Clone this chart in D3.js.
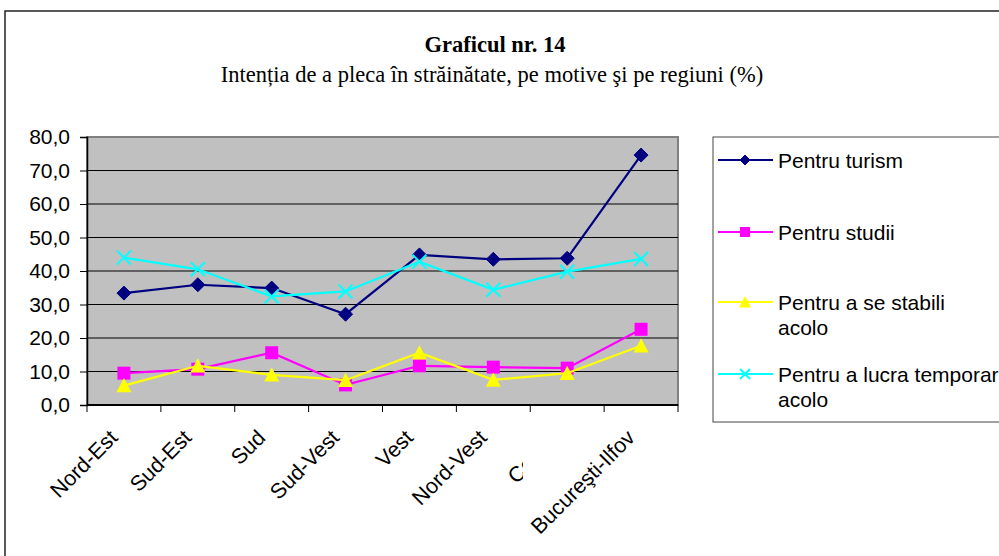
<!DOCTYPE html>
<html>
<head>
<meta charset="utf-8">
<script src="https://cdn.jsdelivr.net/npm/d3@7"></script>
<style>
  body { margin: 0; background: #fff; }
  svg { display: block; }
</style>
</head>
<body>
<svg id="chart" width="999" height="556"></svg>
<script>
// data
const regions = ['Nord-Est', 'Sud-Est', 'Sud', 'Sud-Vest', 'Vest', 'Nord-Vest', 'Centru', 'Bucureşti-Ilfov'];
const turism  = [33.4, 35.9, 34.9, 27.1, 44.8, 43.5, 43.8, 74.6];
const studii  = [9.5, 10.7, 15.6, 6.0, 11.7, 11.3, 11.0, 22.6];
const stabili = [5.8, 11.7, 9.0, 7.4, 15.6, 7.5, 9.5, 17.7];
const lucra   = [44.0, 40.5, 32.4, 33.9, 42.8, 34.4, 39.8, 43.6];
const yTicks  = [0, 10, 20, 30, 40, 50, 60, 70, 80];

const series = [
  { name: ['Pentru turism'], values: turism, color: '#000080', shape: 'diamond' },
  { name: ['Pentru studii'], values: studii, color: '#ff00ff', shape: 'square' },
  { name: ['Pentru a se stabili', 'acolo'], values: stabili, color: '#ffff00', shape: 'triangle' },
  { name: ['Pentru a lucra temporar', 'acolo'], values: lucra, color: '#00ffff', shape: 'cross' }
];

const svg = d3.select('#chart');
const plot = { left: 87, top: 137, right: 678, bottom: 405 };

// outer frame
svg.append('rect')
  .attr('x', 5).attr('y', 11).attr('width', 1100).attr('height', 700)
  .attr('fill', 'none').attr('stroke', '#222').attr('stroke-width', 1.5);

// titles
const serif = '"Liberation Serif", "Times New Roman", serif';
svg.append('text')
  .attr('x', 495).attr('y', 52)
  .attr('text-anchor', 'middle')
  .style('font-family', serif)
  .style('font-weight', 'bold').style('font-size', '22.5px')
  .text('Graficul nr. 14');
svg.append('text')
  .attr('x', 492).attr('y', 82)
  .attr('text-anchor', 'middle')
  .style('font-family', serif)
  .style('font-size', '22.5px')
  .text('Intenția de a pleca în străinătate, pe motive şi pe regiuni (%)');

const x = d3.scaleBand().domain(regions).range([plot.left, plot.right]).padding(0);
const y = d3.scaleLinear().domain([0, 80]).range([plot.bottom, plot.top]);
const cx = d => x(d) + x.bandwidth() / 2;

// plot area
svg.append('rect')
  .attr('x', plot.left).attr('y', plot.top)
  .attr('width', plot.right - plot.left).attr('height', plot.bottom - plot.top)
  .attr('fill', '#c0c0c0').attr('stroke', '#808080').attr('stroke-width', 2);

// gridlines
svg.append('g').selectAll('line')
  .data(yTicks.filter(v => v > 0 && v < 80))
  .join('line')
  .attr('x1', plot.left).attr('x2', plot.right)
  .attr('y1', d => y(d)).attr('y2', d => y(d))
  .attr('stroke', '#000').attr('stroke-width', 1);

const font = 'Arial, "Liberation Sans", sans-serif';

// y axis
const yAxis = svg.append('g')
  .attr('transform', `translate(${plot.left},0)`)
  .call(d3.axisLeft(y).tickValues(yTicks).tickSize(7).tickPadding(10)
    .tickFormat(d => d3.format('.1f')(d).replace('.', ',')));
yAxis.select('.domain').attr('stroke', '#000').attr('stroke-width', 1.5);
yAxis.selectAll('.tick line').attr('stroke', '#000');
yAxis.selectAll('text').style('font-family', font).style('font-size', '21px').attr('fill', '#000');

// x axis: ticks on category boundaries
const xAxis = svg.append('g');
xAxis.append('line')
  .attr('x1', plot.left).attr('x2', plot.right)
  .attr('y1', plot.bottom).attr('y2', plot.bottom)
  .attr('stroke', '#000').attr('stroke-width', 2);
xAxis.selectAll('.xtick')
  .data(regions.concat(['end']))
  .join('line')
  .attr('class', 'xtick')
  .attr('x1', (d, i) => i < regions.length ? x(d) : plot.right)
  .attr('x2', (d, i) => i < regions.length ? x(d) : plot.right)
  .attr('y1', plot.bottom).attr('y2', plot.bottom + 7)
  .attr('stroke', '#000');

// the "Centru" label is cut off in the original
svg.append('defs').append('clipPath').attr('id', 'cutC')
  .append('rect').attr('x', 0).attr('y', 0).attr('width', 523).attr('height', 556);

xAxis.selectAll('.xlab')
  .data(regions)
  .join('text')
  .attr('class', 'xlab')
  .attr('transform', d => `translate(${cx(d) - 5},${plot.bottom + 34}) rotate(-45)`)
  .attr('text-anchor', 'end')
  .style('font-family', font).style('font-size', '21.5px')
  .text(d => d);
xAxis.selectAll('.xlab').filter(d => d === 'Centru')
  .each(function () {
    const g = xAxis.append('g').attr('clip-path', 'url(#cutC)');
    g.node().appendChild(this);
  });

// markers
function drawMarker(sel, shape, color, s) {
  if (shape === 'diamond') {
    sel.append('path')
      .attr('d', `M0,${-s}L${s},0L0,${s}L${-s},0Z`)
      .attr('fill', color).attr('stroke', color);
  } else if (shape === 'square') {
    sel.append('rect')
      .attr('x', -s).attr('y', -s).attr('width', 2 * s).attr('height', 2 * s)
      .attr('fill', color);
  } else if (shape === 'triangle') {
    sel.append('path')
      .attr('d', `M0,${-s}L${s},${s * 0.9}L${-s},${s * 0.9}Z`)
      .attr('fill', color);
  } else {
    sel.append('path')
      .attr('d', `M${-s},${-s}L${s},${s}M${-s},${s}L${s},${-s}`)
      .attr('stroke', color).attr('stroke-width', 2).attr('fill', 'none');
  }
}

const line = d3.line().x(d => cx(d.r)).y(d => y(d.v));
const sizes = { diamond: 7, square: 6.5, triangle: 7.5, cross: 7 };

series.forEach(s => {
  const pts = s.values.map((v, i) => ({ r: regions[i], v: v }));
  svg.append('path')
    .datum(pts)
    .attr('d', line)
    .attr('fill', 'none').attr('stroke', s.color).attr('stroke-width', 2.2);
  svg.append('g').selectAll('g')
    .data(pts)
    .join('g')
    .attr('transform', d => `translate(${cx(d.r)},${y(d.v)})`)
    .each(function () { drawMarker(d3.select(this), s.shape, s.color, sizes[s.shape]); });
});

// legend
svg.append('rect')
  .attr('x', 713).attr('y', 137).attr('width', 400).attr('height', 285)
  .attr('fill', '#fff').attr('stroke', '#444').attr('stroke-width', 1);

const legendY = [160, 232, 302, 374];
const lsizes = { diamond: 5, square: 5, triangle: 6, cross: 5 };
series.forEach((s, i) => {
  const g = svg.append('g').attr('transform', `translate(0,${legendY[i]})`);
  g.append('line').attr('x1', 718).attr('x2', 773).attr('y1', 0).attr('y2', 0)
    .attr('stroke', s.color).attr('stroke-width', 2);
  drawMarker(g.append('g').attr('transform', 'translate(745,0)'), s.shape, s.color, lsizes[s.shape]);
  g.append('text')
    .attr('x', 778).attr('y', 7.5)
    .style('font-family', font).style('font-size', '21px')
    .selectAll('tspan')
    .data(s.name)
    .join('tspan')
    .attr('x', 778).attr('dy', (d, j) => j === 0 ? 0 : 25)
    .text(d => d);
});
</script>
</body>
</html>
